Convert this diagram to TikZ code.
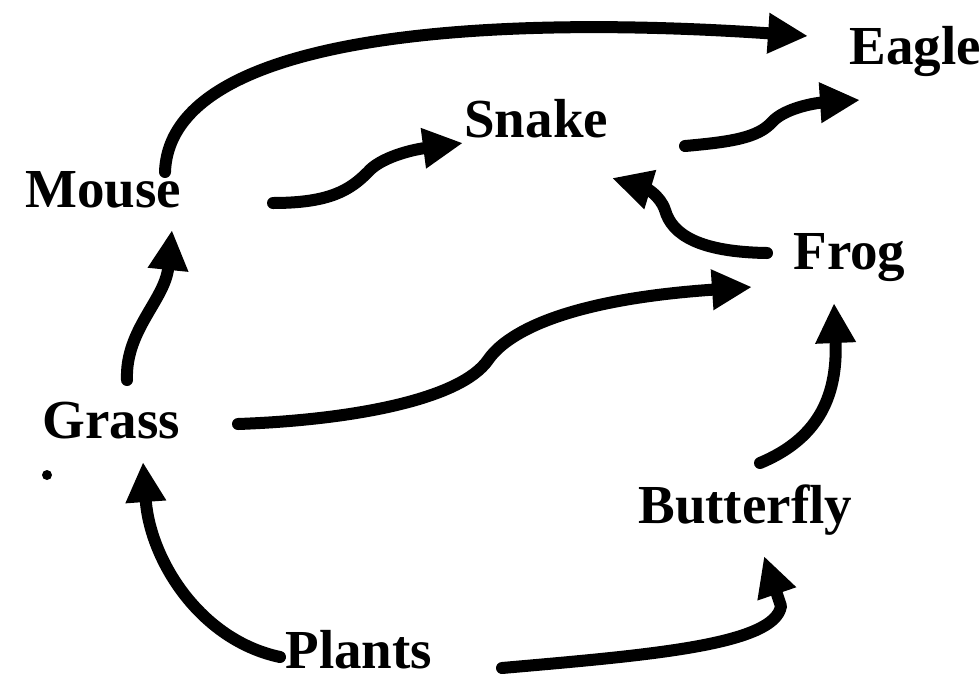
\documentclass[tikz,border=0pt]{standalone}
\usepackage{fontspec}
\setmainfont{Liberation Serif}
\usetikzlibrary{arrows.meta}

\begin{document}
\begin{tikzpicture}[x=0.5pt,y=-0.5pt,
    animal/.style={inner sep=0pt,anchor=base west,font=\fontsize{27.5}{30}\selectfont\bfseries},
    feeds/.style={line width=6pt,line cap=round,line join=round,-{Triangle[length=20pt,width=19pt]}}]
  \useasboundingbox (0,0) rectangle (980,681);
  % animals
  \node[animal] (eagle) at (849,64) {Eagle};
  \node[animal] (snake) at (464,137) {Snake};
  \node[animal] (mouse) at (25,207) {Mouse};
  \node[animal] (frog) at (793,269) {Frog};
  \node[animal] (grass) at (42,438) {Grass};
  \node[animal] (butterfly) at (638,523) {Butterfly};
  \node[animal] (plants) at (285,668) {Plants};
  \fill (47,475) circle[radius=5];
  % who eats whom
  \draw[feeds] ([shift={(140,-35)}]mouse.base west) .. controls (170,30) and (500,15) .. ([shift={(-41,-28)}]eagle.base west);
  \draw[feeds] ([shift={(248,-4)}]mouse.base west) .. controls (330,203) and (350,190) .. (368,172)
    .. controls (380,158) and (410,150) .. ([shift={(-1,6)}]snake.base west);
  \draw[feeds] ([shift={(221,9)}]snake.base west) .. controls (730,142) and (758,138) .. (772,122)
    .. controls (785,108) and (815,103) .. ([shift={(11,36)}]eagle.base west);
  \draw[feeds] ([shift={(-26,-16)}]frog.base west) .. controls (700,252) and (672,235) .. (665,210)
    .. controls (660,195) and (645,188) .. ([shift={(148,41)}]snake.base west);
  \draw[feeds] ([shift={(85,-58)}]grass.base west) .. controls (125,330) and (165,300) .. ([shift={(147,23)}]mouse.base west);
  \draw[feeds] ([shift={(196,-14)}]grass.base west) .. controls (350,420) and (460,400) .. (488,360)
    .. controls (505,335) and (560,300) .. ([shift={(-41,18)}]frog.base west);
  \draw[feeds] ([shift={(122,-60)}]butterfly.base west) .. controls (815,440) and (838,400) .. ([shift={(41,34)}]frog.base west);
  \draw[feeds] ([shift={(-5,-11)}]plants.base west) .. controls (200,640) and (150,560) .. ([shift={(101,24)}]grass.base west);
  \draw[feeds] ([shift={(217,0)}]plants.base west) .. controls (650,655) and (775,645) .. (781,606)
    -- ([shift={(126,33)}]butterfly.base west);
\end{tikzpicture}
\end{document}
